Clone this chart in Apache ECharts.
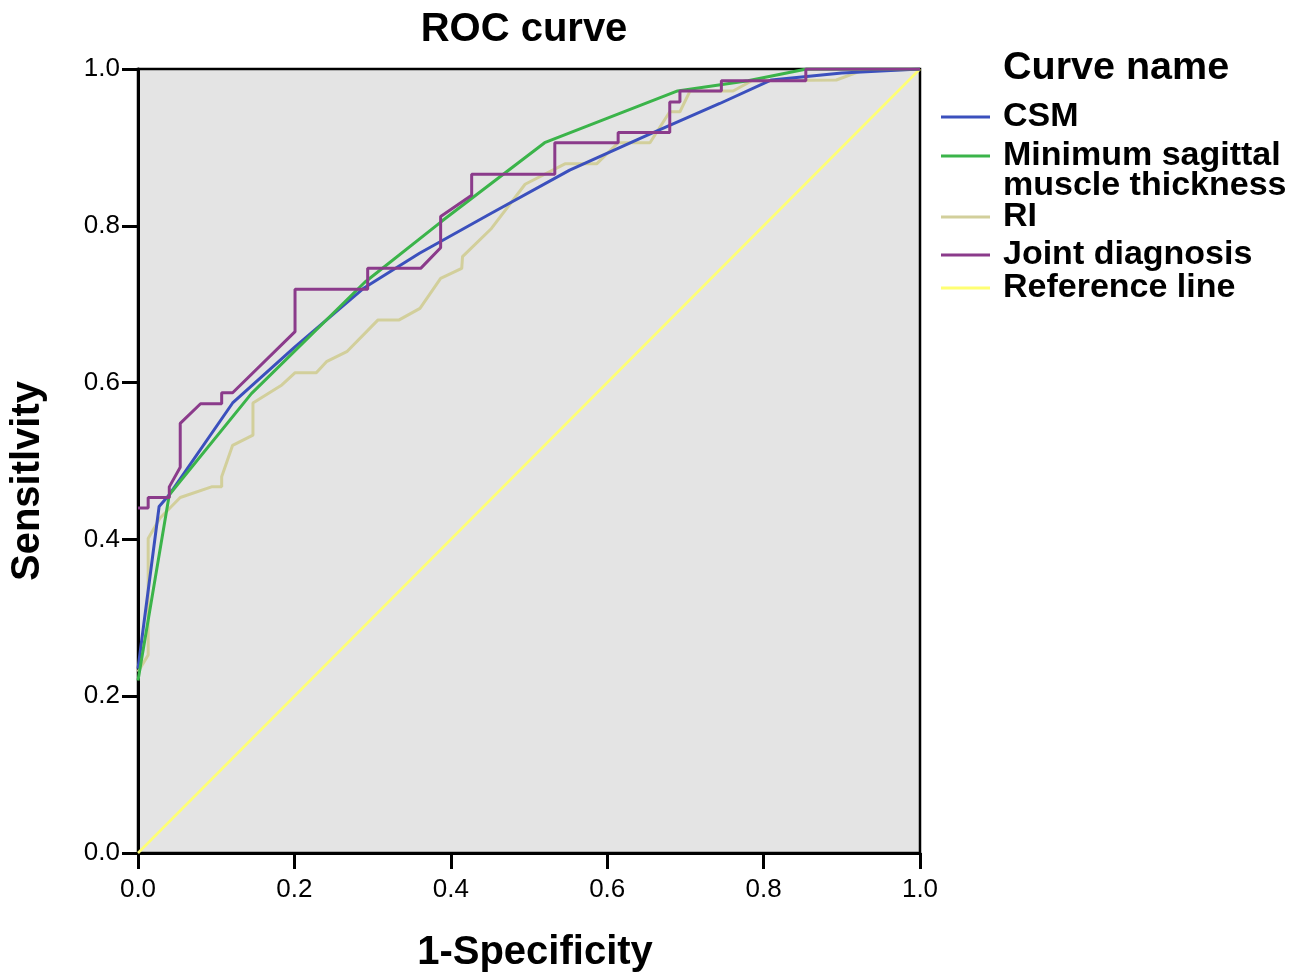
<!DOCTYPE html>
<html>
<head>
<meta charset="utf-8">
<script src="https://cdn.jsdelivr.net/npm/echarts@6/dist/echarts.min.js"></script>
<style>
  html, body { margin: 0; padding: 0; background: #fff; }
  #roc { width: 1304px; height: 973px; }
</style>
</head>
<body>
<div id="roc"></div>
<script>
// values: [1-specificity, sensitivity]
var csmPts = [[0,0.235],[0.027,0.442],[0.04,0.457],[0.121,0.574],[0.2,0.645],[0.288,0.72],
  [0.36,0.765],[0.45,0.815],[0.552,0.871],[0.65,0.915],[0.744,0.956],[0.81,0.986],[0.9,0.995],[1,1]];
var mstPts = [[0,0.22],[0.04,0.457],[0.145,0.586],[0.29,0.728],[0.39,0.807],[0.52,0.906],
  [0.69,0.972],[0.78,0.985],[0.855,1],[1,1]];
var riPts = [[0,0.231],[0.013,0.2525],[0.013,0.401],[0.028,0.427],[0.054,0.4535],[0.094,0.467],
  [0.107,0.467],[0.107,0.48],[0.121,0.52],[0.147,0.533],[0.147,0.574],[0.184,0.597],[0.201,0.6126],
  [0.228,0.6126],[0.241,0.6267],[0.267,0.6394],[0.307,0.68],[0.334,0.68],[0.3606,0.6946],
  [0.387,0.733],[0.414,0.7457],[0.415,0.7606],[0.452,0.7966],[0.495,0.853],[0.546,0.879],
  [0.5865,0.879],[0.614,0.906],[0.6547,0.906],[0.68,0.9455],[0.693,0.9455],[0.706,0.972],
  [0.761,0.972],[0.785,0.985],[0.893,0.986],[0.923,0.997],[1,1]];
var jointPts = [[0,0.44],[0.013,0.44],[0.013,0.4535],[0.04,0.4535],[0.04,0.467],[0.054,0.492],
  [0.054,0.548],[0.08,0.573],[0.107,0.573],[0.107,0.587],[0.121,0.587],[0.2008,0.665],
  [0.2008,0.719],[0.2937,0.719],[0.2937,0.7457],[0.3615,0.7457],[0.387,0.772],[0.387,0.812],
  [0.4267,0.839],[0.4267,0.8656],[0.533,0.8656],[0.533,0.906],[0.614,0.906],[0.614,0.919],
  [0.68,0.919],[0.68,0.958],[0.693,0.958],[0.693,0.972],[0.746,0.972],[0.746,0.985],
  [0.854,0.985],[0.854,1],[1,1]];
var refPts = [[0,0],[1,1]];

var curveNames = ['CSM', 'Minimum sagittal muscle thickness', 'RI', 'Joint diagnosis', 'Reference line'];
var curveColors = ['#3b50bd', '#3bb44a', '#d2cf9b', '#8b3b8b', '#ffff73'];
var legendTops = [100, 109, 200, 238, 271];
var axisTicks = ['0.0', '0.2', '0.4', '0.6', '0.8', '1.0'];

var font = '"Liberation Sans", Arial, Helvetica, sans-serif';
var chart = echarts.init(document.getElementById('roc'));

var legends = curveNames.map(function (n, i) {
  var multi = i === 1;
  return {
    data: [{ name: n, icon: 'rect' }],
    left: 941,
    top: legendTops[i],
    padding: 0,
    itemWidth: 49,
    itemHeight: 3,
    itemGap: 0,
    selectedMode: false,
    formatter: multi ? function () { return ' \nMinimum sagittal\nmuscle thickness'; } : '{name}',
    textStyle: {
      fontFamily: font, fontWeight: 'bold', fontSize: 34,
      lineHeight: multi ? 30 : 34, color: '#000', padding: [0, 0, 0, 8]
    }
  };
});

var seriesData = [refPts, riPts, csmPts, mstPts, jointPts];
var seriesIdx = [4, 2, 0, 1, 3];
var series = seriesIdx.map(function (k, j) {
  return {
    name: curveNames[k],
    type: 'line',
    data: seriesData[j],
    symbol: 'none',
    animation: false,
    lineStyle: { color: curveColors[k], width: k === 4 ? 2.5 : 3 },
    itemStyle: { color: curveColors[k] }
  };
});

chart.setOption({
  backgroundColor: '#fff',
  animation: false,
  title: {
    text: 'ROC curve',
    left: 519,
    textAlign: 'center',
    top: 5,
    textStyle: { fontFamily: font, fontWeight: 'bold', fontSize: 40, color: '#000' }
  },
  legend: legends,
  graphic: [{
    type: 'text',
    left: 1003,
    top: 48,
    style: { text: 'Curve name', font: 'bold 39.5px ' + font, fill: '#000' }
  }],
  grid: {
    left: 138, top: 69, right: 384, bottom: 120,
    outerBoundsMode: 'none', containLabel: false,
    show: true, backgroundColor: '#e4e4e4', borderColor: '#000', borderWidth: 2.5
  },
  xAxis: {
    type: 'value', min: 0, max: 1, interval: 0.2,
    name: '1-Specificity', nameLocation: 'middle', nameGap: 80,
    nameTextStyle: { fontFamily: font, fontWeight: 'bold', fontSize: 40, color: '#000', padding: [0, 0, 0, 12] },
    axisLine: { show: true, lineStyle: { color: '#000', width: 3 } },
    axisTick: { show: true, length: 16, lineStyle: { color: '#000', width: 3 } },
    axisLabel: {
      fontFamily: font, fontSize: 26, color: '#000', margin: 24,
      formatter: function (v) { return axisTicks[Math.round(v * 5)]; }
    },
    splitLine: { show: false }
  },
  yAxis: {
    type: 'value', min: 0, max: 1, interval: 0.2,
    name: 'Sensitlvity', nameLocation: 'middle', nameGap: 90,
    nameTextStyle: { fontFamily: font, fontWeight: 'bold', fontSize: 40, color: '#000', padding: [0, 40, 0, 0] },
    axisLine: { show: true, lineStyle: { color: '#000', width: 3 } },
    axisTick: { show: true, length: 16, lineStyle: { color: '#000', width: 3 } },
    axisLabel: {
      fontFamily: font, fontSize: 26, color: '#000', margin: 18,
      formatter: function (v) { return axisTicks[Math.round(v * 5)]; }
    },
    splitLine: { show: false }
  },
  series: series
});
</script>
</body>
</html>
